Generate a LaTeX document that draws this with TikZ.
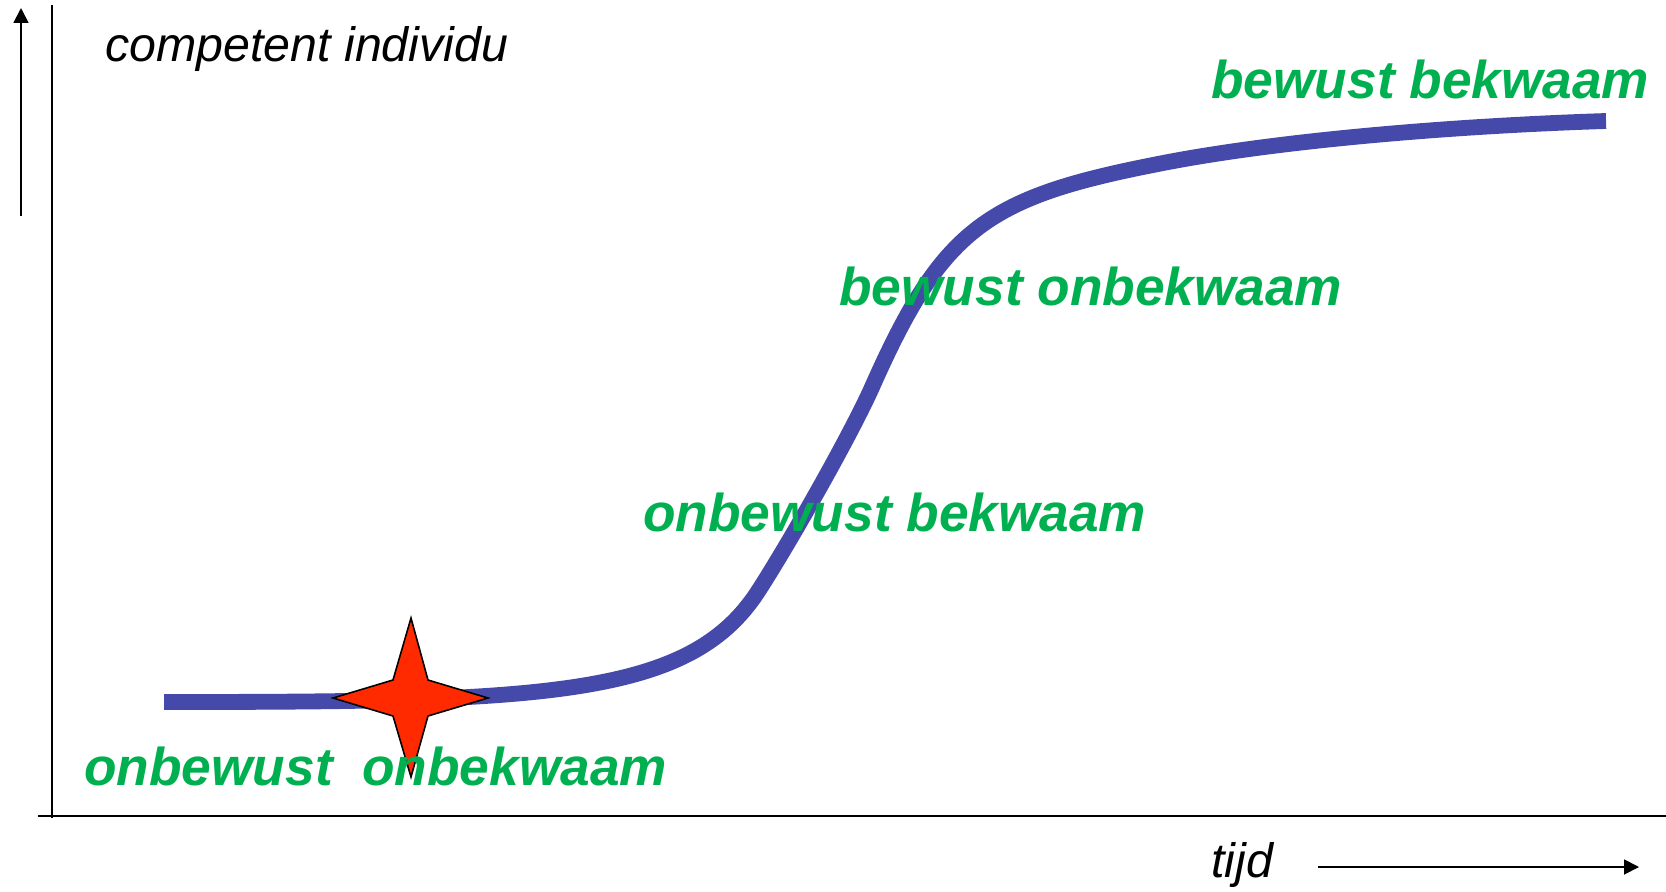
\documentclass[tikz,border=0pt]{standalone}
\usepackage{fontspec}
\setmainfont{Liberation Sans}
\usetikzlibrary{arrows.meta}
\definecolor{stagegreen}{HTML}{00B050}
\definecolor{curveblue}{HTML}{454AAA}
\definecolor{starred}{HTML}{FF2A00}
\tikzset{
  lbl/.style={anchor=base west,inner sep=0pt,font=\itshape\fontsize{27.5}{30}\selectfont},
  stage/.style={lbl,text=stagegreen,font=\bfseries\itshape\fontsize{30.3}{34}\selectfont},
  axis/.style={line width=1.1pt},
  axarr/.style={-{Triangle[length=8.5pt,width=8.5pt]},line width=1pt},
  growth/.style={line width=9pt,draw=curveblue},
  spark/.style={fill=starred,draw=black,line width=0.9pt,line join=miter}
}

\begin{document}
\begin{tikzpicture}[x=0.02cm,y=-0.02cm]
  \useasboundingbox (0,0) rectangle (1666,892);
  % axes
  \draw[axis] (52,5) -- (52,818);
  \draw[axis] (38,816) -- (1666,816);
  \coordinate (ybot) at (21,216);
  \coordinate (ytop) at (21,8);
  \draw[axarr] (ybot) -- (ytop);
  \coordinate (tleft) at (1318,867);
  \coordinate (tright) at (1639,867);
  \draw[axarr] (tleft) -- (tright);
  \node[lbl] (comp) at (105,62) {competent individu};
  \node[lbl] (tijd) at (1211,877) {tijd};
  % learning curve
  \draw[growth] (164,702) .. controls (544,702) and (688,697) .. (757,593)
    .. controls (787,547) and (851,435) .. (873,385)
    .. controls (942,230) and (986,198) .. (1153,165)
    .. controls (1271,141) and (1450,126) .. (1606,121);
  \draw[spark] (411,618) -- (428,680) -- (488,698) -- (428,716) -- (411,777)
    -- (393,716) -- (333,698) -- (393,680) -- cycle;
  % stages
  \node[stage] (ubb) at (84,785) {onbewust\ \ onbekwaam};
  \node[stage] (ubk) at (643,531) {onbewust bekwaam};
  \node[stage] (bob) at (839,305) {bewust onbekwaam};
  \node[stage] (bbk) at (1211,98) {bewust bekwaam};
\end{tikzpicture}
\end{document}
